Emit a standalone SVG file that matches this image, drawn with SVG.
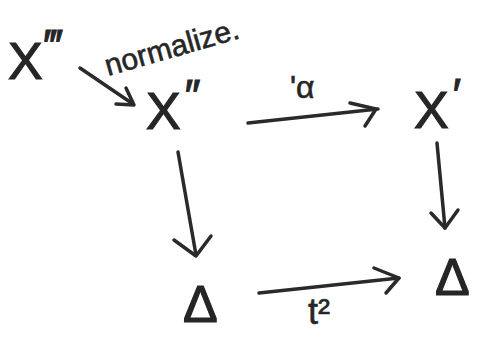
<svg xmlns="http://www.w3.org/2000/svg" width="477" height="337" viewBox="0 0 477 337">
<defs>
<style>
.n{font-family:"Liberation Sans","DejaVu Sans",sans-serif;fill:#262626;stroke:#262626;stroke-width:1.2;font-size:52px}
.p{font-size:44px}
.l{font-family:"Liberation Sans","DejaVu Sans",sans-serif;fill:#262626;stroke:#262626;stroke-width:0.6}
.c{stroke:#2a2a2a;stroke-width:3.5;fill:none;stroke-linecap:round;stroke-linejoin:round}
</style>
</defs>
<rect width="477" height="337" fill="#fff"/>
<g id="connectors">
<path class="c" d="M80,68 L133,104"/>
<path class="c" d="M116,104 L134,105 L126,88" stroke-width="4"/>
<path class="c" d="M248,123 L378,109"/>
<path class="c" d="M350,103 L376,109 L365,126"/>
<path class="c" d="M437,143 L445,228"/>
<path class="c" d="M431,213 L445,228 L458,210"/>
<path class="c" d="M178,152 L196,255"/>
<path class="c" d="M174,240 L196,256 L211,236"/>
<path class="c" d="M259,293 L399,278"/>
<path class="c" d="M374,268 L399,278 L386,293"/>
</g>
<g id="label-normalize"><text class="l" x="108" y="76" font-size="30" transform="rotate(-16 108 76)">normalize.</text></g>
<g id="label-alpha"><text class="l" x="290" y="98" font-size="32">ʹα</text></g>
<g id="label-t2"><text class="l" x="308" y="324" font-size="36">t²</text></g>
<g id="node-x3"><text class="n" x="8" y="79">X<tspan class="p" dx="4" dy="-18">‴</tspan></text></g>
<g id="node-x2"><text class="n" x="146" y="129">X<tspan class="p" dx="4" dy="-18">″</tspan></text></g>
<g id="node-x1"><text class="n" x="414" y="128">X<tspan class="p" dx="4" dy="-18">′</tspan></text></g>
<g id="node-d1"><text class="n" x="183" y="322">Δ</text></g>
<g id="node-d2"><text class="n" x="435" y="295">Δ</text></g>
</svg>
